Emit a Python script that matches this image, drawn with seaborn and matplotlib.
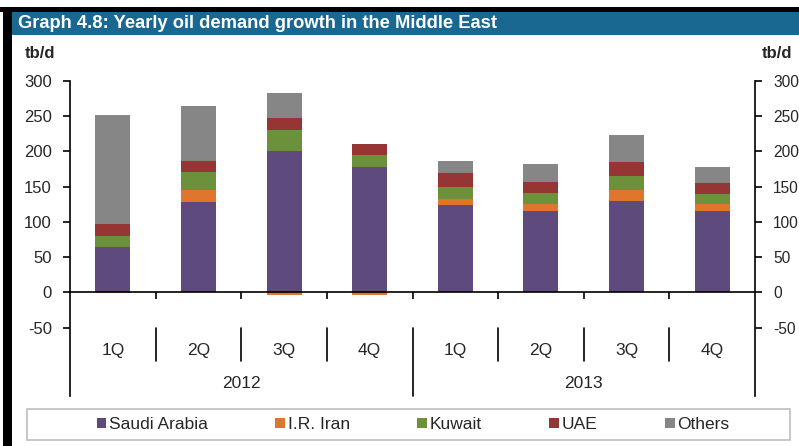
import numpy as np
import matplotlib
matplotlib.use("Agg")
from matplotlib import pyplot as plt
from matplotlib.patches import Rectangle, Patch
import seaborn as sns

# values (tb/d)
quarters = ["1Q", "2Q", "3Q", "4Q", "1Q", "2Q", "3Q", "4Q"]
years = ["2012", "2013"]
saudi = [64, 128, 201, 178, 124, 115, 130, 115]
iran = [-1, 18, -4, -4, 9, 11, 15, 10]
kuwait = [16, 25, 29, 17, 16, 15, 20, 15]
uae = [17, 16, 18, 16, 20, 15, 20, 15]
others = [155, 78, 35, 0, 17, 26, 38, 23]

series_names = ["Saudi Arabia", "I.R. Iran", "Kuwait", "UAE", "Others"]
colors = ["#5e4a7c", "#e0762b", "#6b923a", "#953635", "#868686"]

W, H = 799, 446


def fx(px):
    return px / W


def fy(py):
    return 1 - py / H


sns.set_style("white")
plt.rcParams["font.family"] = ["Liberation Sans", "DejaVu Sans"]
plt.rcParams["axes.unicode_minus"] = False

fig = plt.figure(figsize=(W / 100, H / 100), dpi=100)

# frame decoration: black border, blue title bar
fig.patches.append(Rectangle((0, fy(12)), 1, fy(7) - fy(12), transform=fig.transFigure,
                             facecolor="black", edgecolor="none"))
fig.patches.append(Rectangle((fx(3), 0), fx(12) - fx(3), fy(7), transform=fig.transFigure,
                             facecolor="black", edgecolor="none"))
fig.patches.append(Rectangle((fx(12), fy(35)), 1 - fx(12), fy(12) - fy(35), transform=fig.transFigure,
                             facecolor="#186891", edgecolor="none"))
fig.text(fx(18), fy(23.5), "Graph 4.8: Yearly oil demand growth in the Middle East",
         color="white", fontsize=13.2, fontweight="bold", va="center", ha="left")
fig.text(fx(25), fy(53), "tb/d", fontsize=12, fontweight="bold", va="center", ha="left")
fig.text(fx(762), fy(53), "tb/d", fontsize=12, fontweight="bold", va="center", ha="left")

ax = fig.add_axes([fx(70), fy(396), fx(755) - fx(70), fy(81) - fy(396)])

periods = [f"{years[i // 4]} {q}" for i, q in enumerate(quarters)]
pos_base = np.zeros(len(periods))
neg_base = np.zeros(len(periods))
for name, vals, col in zip(series_names, [saudi, iran, kuwait, uae, others], colors):
    vals = np.array(vals, dtype=float)
    bottom = np.where(vals >= 0, pos_base, neg_base)
    sns.barplot(x=periods, y=vals, order=periods, bottom=bottom, color=col,
                saturation=1, width=0.41, errorbar=None, linewidth=0, ax=ax)
    pos_base = pos_base + np.clip(vals, 0, None)
    neg_base = neg_base + np.clip(vals, None, 0)

ax.set_xlim(-0.5, len(periods) - 0.5)
ax.set_ylim(-147, 300)
ax.set_xlabel("")
ax.set_ylabel("")

# y axes on both sides
ax.set_yticks([300, 250, 200, 150, 100, 50, 0, -50])
ax.tick_params(axis="y", left=True, right=True, labelleft=True, labelright=True,
               direction="out", length=5, width=1.2, labelsize=12, pad=8, color="black")
for tick in ax.yaxis.get_major_ticks():
    tick.label2.set_fontsize(11.2)
for side in ["left", "right"]:
    ax.spines[side].set_color("black")
    ax.spines[side].set_linewidth(1.2)
ax.spines["top"].set_visible(False)
ax.spines["bottom"].set_position(("data", 0))
ax.spines["bottom"].set_color("black")
ax.spines["bottom"].set_linewidth(1.2)

# small ticks between quarters on the zero line
ax.set_xticks(np.arange(0.5, len(periods) - 0.5, 1))
ax.set_xticklabels([])
ax.tick_params(axis="x", bottom=True, direction="out", length=5, width=1.2, color="black")

# two-level category labels
for i, q in enumerate(quarters):
    ax.text(i, -82, q, ha="center", va="center", fontsize=12.5)
for b in np.arange(0.5, len(periods) - 0.5, 1):
    if b == 3.5:
        ax.plot([b, b], [-50, -147], color="black", lw=1.2, clip_on=False)
    else:
        ax.plot([b, b], [-50, -97], color="black", lw=1.2, clip_on=False)
for k, yr in enumerate(years):
    ax.text(k * 4 + 1.5, -129, yr, ha="center", va="center", fontsize=12.5)

# legend in a box at the bottom
fig.patches.append(Rectangle((fx(27), fy(440)), fx(790) - fx(27), fy(409) - fy(440),
                             transform=fig.transFigure, facecolor="white",
                             edgecolor="#bdbdbd", linewidth=1.2))
handles = [Patch(facecolor=c, edgecolor="none", label=n) for n, c in zip(series_names, colors)]
fig.legend(handles=handles, loc="center", bbox_to_anchor=(fx(413), fy(424.5)), ncol=5,
           frameon=False, fontsize=12.5, handlelength=0.55, handleheight=0.55,
           handletextpad=0.15, columnspacing=3.9)

fig.savefig("out.png", dpi=100)
